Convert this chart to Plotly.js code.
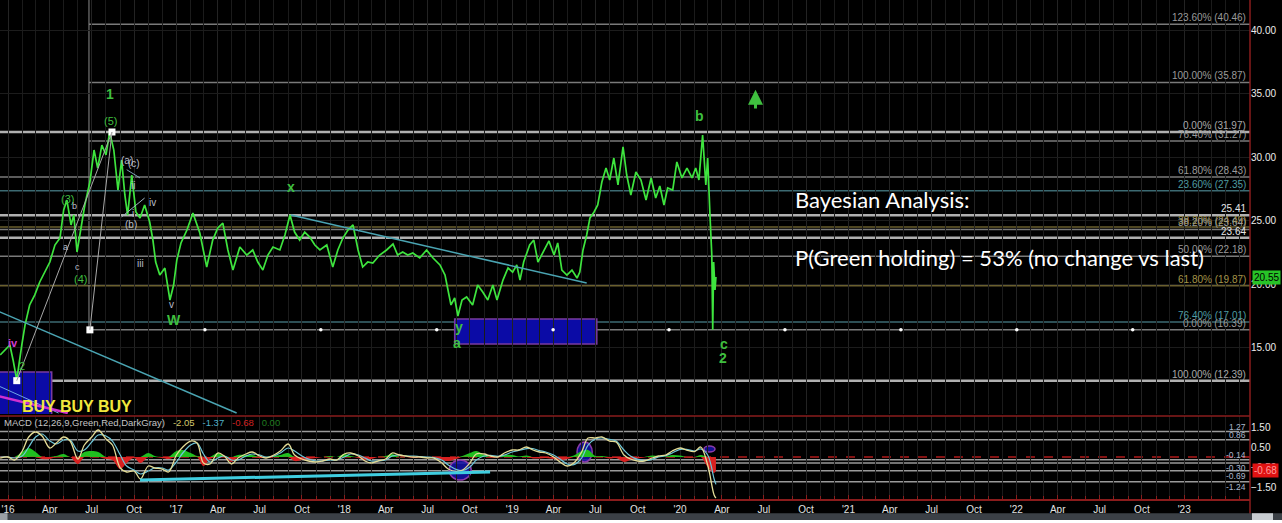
<!DOCTYPE html>
<html><head><meta charset="utf-8">
<script src="https://cdn.plot.ly/plotly-3.0.1.min.js"></script>
<style>html,body{margin:0;padding:0;background:#000;}#chart{width:1282px;height:523px;}</style>
</head><body><div id="chart"></div>
<script>
// ---------- DATA ----------
const priceDates = ['2015-12-15','2015-12-25','2016-01-05','2016-01-12','2016-01-20','2016-01-31','2016-02-07','2016-02-17','2016-02-28','2016-03-10','2016-03-21','2016-04-01','2016-04-12','2016-04-23','2016-05-01','2016-05-08','2016-05-17','2016-05-23','2016-05-30','2016-06-07','2016-06-16','2016-06-27','2016-07-06','2016-07-14','2016-07-23','2016-08-01','2016-08-09','2016-08-18','2016-08-27','2016-09-04','2016-09-11','2016-09-17','2016-09-26','2016-10-05','2016-10-14','2016-10-24','2016-11-04','2016-11-11','2016-11-17','2016-11-26','2016-12-07','2016-12-18','2016-12-26','2017-01-02','2017-01-11','2017-01-24','2017-02-06','2017-02-21','2017-03-08','2017-03-21','2017-04-01','2017-04-12','2017-04-23','2017-05-04','2017-05-19','2017-06-03','2017-06-16','2017-06-27','2017-07-08','2017-07-19','2017-07-30','2017-08-14','2017-08-25','2017-09-05','2017-09-15','2017-09-26','2017-10-07','2017-10-18','2017-10-29','2017-11-09','2017-11-24','2017-12-07','2017-12-18','2017-12-29','2018-01-09','2018-01-20','2018-01-31','2018-02-10','2018-02-21','2018-03-04','2018-03-19','2018-04-03','2018-04-17','2018-04-27','2018-05-08','2018-05-19','2018-05-30','2018-06-14','2018-06-29','2018-07-13','2018-07-28','2018-08-08','2018-08-14','2018-08-21','2018-08-29','2018-09-05','2018-09-14','2018-09-24','2018-10-07','2018-10-18','2018-10-29','2018-11-09','2018-11-20','2018-11-29','2018-12-12','2018-12-23','2019-01-02','2019-01-11','2019-01-18','2019-01-26','2019-02-08','2019-02-17','2019-02-26','2019-03-09','2019-03-22','2019-04-02','2019-04-10','2019-04-19','2019-04-30','2019-05-11','2019-05-22','2019-05-28','2019-06-04','2019-06-12','2019-06-19','2019-06-28','2019-07-06','2019-07-15','2019-07-24','2019-08-01','2019-08-10','2019-08-19','2019-08-30','2019-09-07','2019-09-16','2019-09-27','2019-10-08','2019-10-19','2019-10-30','2019-11-09','2019-11-18','2019-11-27','2019-12-05','2019-12-16','2019-12-25','2020-01-05','2020-01-16','2020-01-27','2020-02-04','2020-02-11','2020-02-19','2020-02-26','2020-03-01','2020-03-06','2020-03-10','2020-03-12','2020-03-14','2020-03-17','2020-03-19'];
const priceValues = [14.41,14.80,15.20,14.02,12.45,15.20,16.77,18.35,19.13,20.16,20.94,21.73,23.07,23.62,25.83,26.61,24.65,25.43,22.52,24.25,26.22,28.03,30.55,29.13,30.94,30.16,31.95,30.55,27.40,29.76,27.01,25.43,28.58,25.67,25.20,26.22,24.88,23.46,21.73,20.71,21.26,18.74,19.92,21.89,23.23,24.25,25.59,24.02,21.34,23.46,24.41,24.80,22.68,21.10,22.91,22.28,22.68,21.73,21.10,22.28,22.91,22.68,23.86,25.43,24.09,23.46,24.09,23.70,23.07,22.68,23.07,21.34,22.68,23.62,24.25,24.65,22.68,21.34,21.73,21.65,22.28,22.68,23.15,22.28,22.52,22.28,22.44,22.05,22.68,22.05,21.50,20.71,19.53,18.35,18.90,17.48,18.74,18.98,18.35,19.92,19.37,18.74,19.92,18.74,20.31,21.26,20.94,21.50,20.31,21.73,23.07,23.46,21.73,22.52,23.39,22.28,23.23,21.10,20.71,21.10,20.47,20.94,22.68,23.86,25.20,25.67,26.22,28.03,29.13,28.19,29.92,27.80,30.79,28.58,27.01,28.82,28.19,26.61,28.35,26.77,27.72,26.22,27.56,27.40,29.61,28.35,29.13,28.35,29.13,28.19,31.73,27.80,29.92,25.43,22.28,16.39,21.73,19.53,20.55];

const macdDates = ['2015-12-15','2016-01-01','2016-01-15','2016-02-01','2016-02-15','2016-03-01','2016-03-15','2016-04-01','2016-04-15','2016-05-01','2016-05-15','2016-06-01','2016-06-15','2016-07-01','2016-07-15','2016-08-01','2016-08-15','2016-09-01','2016-09-15','2016-10-01','2016-10-15','2016-11-01','2016-11-15','2016-12-01','2016-12-15','2017-01-01','2017-01-15','2017-02-01','2017-02-15','2017-03-01','2017-03-15','2017-04-01','2017-04-15','2017-05-01','2017-05-15','2017-06-01','2017-06-15','2017-07-01','2017-07-15','2017-08-01','2017-08-15','2017-09-01','2017-09-15','2017-10-01','2017-10-15','2017-11-01','2017-11-15','2017-12-01','2017-12-15','2018-01-01','2018-01-15','2018-02-01','2018-02-15','2018-03-01','2018-03-15','2018-04-01','2018-04-15','2018-05-01','2018-05-15','2018-06-01','2018-06-15','2018-07-01','2018-07-15','2018-08-01','2018-08-15','2018-09-01','2018-09-15','2018-10-01','2018-10-15','2018-11-01','2018-11-15','2018-12-01','2018-12-15','2019-01-01','2019-01-15','2019-02-01','2019-02-15','2019-03-01','2019-03-15','2019-04-01','2019-04-15','2019-05-01','2019-05-15','2019-06-01','2019-06-15','2019-07-01','2019-07-15','2019-08-01','2019-08-15','2019-09-01','2019-09-15','2019-10-01','2019-10-15','2019-11-01','2019-11-15','2019-12-01','2019-12-15','2020-01-01','2020-01-15','2020-02-01','2020-02-15','2020-03-01','2020-03-15','2020-03-19'];
const macdValue = [-0.05,0,-0.15,0.3,1.0,1.25,1.05,0.45,0.7,1.0,0.8,-0.1,0.6,1.0,1.35,0.9,0.6,-0.55,-0.75,-0.7,-1.1,-0.45,-0.55,-0.6,-0.75,0.1,0.5,0.8,0.7,-0.3,-0.35,0.2,0.05,-0.35,-0.05,0.15,0.25,0.05,-0.05,0.1,0.3,0.65,0.1,-0.1,-0.2,-0.25,-0.2,-0.1,-0.15,0.15,0.2,0.05,-0.2,-0.3,-0.2,-0.1,0.2,0.1,0.05,0,0,-0.05,-0.05,-0.3,-0.6,-0.72,-0.65,-0.3,0.15,0.15,0.05,0,0.2,0.35,0.35,0.5,0.35,0.25,0.2,0,-0.25,-0.45,-0.3,0.25,0.95,0.95,1.0,0.8,0.75,0.1,-0.1,-0.2,-0.2,-0.05,0.05,0.1,0.3,0.45,0.35,0.27,0.5,-0.4,-1.9,-2.05];
const macdAvg = [0,0,-0.05,0.05,0.5,1.0,1.15,0.8,0.65,0.85,0.85,0.3,0.35,0.75,1.1,1.05,0.8,0.1,-0.45,-0.65,-0.85,-0.7,-0.55,-0.55,-0.65,-0.25,0.2,0.6,0.7,0.15,-0.25,-0.05,0.05,-0.15,-0.15,0.05,0.15,0.1,0,0.05,0.2,0.45,0.3,0.05,-0.1,-0.2,-0.2,-0.15,-0.15,0,0.15,0.1,-0.05,-0.2,-0.2,-0.15,0.05,0.1,0.05,0.05,0.02,0,-0.03,-0.15,-0.4,-0.62,-0.68,-0.5,-0.15,0.05,0.08,0.03,0.1,0.25,0.33,0.42,0.42,0.32,0.25,0.1,-0.1,-0.35,-0.38,-0.05,0.6,0.9,0.95,0.88,0.8,0.35,0.05,-0.12,-0.18,-0.12,0,0.07,0.2,0.38,0.38,0.3,0.4,0.1,-1.1,-1.37];
const macdDiff = [0,0,-0.05,0.25,0.45,0.25,-0.1,-0.1,0.05,0.15,0,-0.35,0.25,0.3,0.25,-0.1,-0.15,-0.6,-0.3,-0.05,-0.3,0.2,0.05,-0.05,-0.1,0.3,0.35,0.2,0.05,-0.45,-0.1,0.2,0.05,-0.25,0.1,0.1,0.1,-0.05,-0.05,0.05,0.1,0.2,-0.2,-0.15,-0.1,-0.05,0,0.05,0,0.15,0.05,-0.05,-0.15,-0.1,0,0.05,0.15,0,0,-0.05,-0.02,-0.05,-0.03,-0.15,-0.2,-0.1,0.05,0.2,0.3,0.1,-0.03,-0.03,0.1,0.1,0.03,0.08,-0.07,-0.07,-0.05,-0.1,-0.15,-0.1,0.08,0.3,0.35,0.05,0.05,-0.08,-0.05,-0.25,-0.15,-0.08,-0.02,0.07,0.05,0.03,0.1,0.07,-0.03,-0.03,0.1,-0.5,-0.8,-0.68];

const xTickVals = ['2016-01-01','2016-04-01','2016-07-01','2016-10-01','2017-01-01','2017-04-01','2017-07-01','2017-10-01','2018-01-01','2018-04-01','2018-07-01','2018-10-01','2019-01-01','2019-04-01','2019-07-01','2019-10-01','2020-01-01','2020-04-01','2020-07-01','2020-10-01','2021-01-01','2021-04-01','2021-07-01','2021-10-01','2022-01-01','2022-04-01','2022-07-01','2022-10-01','2023-01-01'];
const xTickText = ["'16",'Apr','Jul','Oct',"'17",'Apr','Jul','Oct',"'18",'Apr','Jul','Oct',"'19",'Apr','Jul','Oct',"'20",'Apr','Jul','Oct',"'21",'Apr','Jul','Oct',"'22",'Apr','Jul','Oct',"'23"];
const priceTicks = [15,20,25,30,35,40];
const macdTicks = [-1.5,-0.5,0.5,1.5];

const fibLevels = [40.46,35.87,31.97,31.27,28.43,27.35,25.41,24.49,24.30,23.64,22.18,19.87,17.01,16.39,12.39];
const fibLabels = ['123.60% (40.46)','100.00% (35.87)','0.00% (31.97)','76.40% (31.27)','61.80% (28.43)','23.60% (27.35)','25.41','38.20% (24.49)','38.20% (23.64)','23.64','50.00% (22.18)','61.80% (19.87)','76.40% (17.01)','0.00% (16.39)','100.00% (12.39)'];
const fibStartDates = ['2016-06-25','2016-06-25','2015-12-01','2016-06-25','2015-12-01','2015-12-01','2015-12-01','2015-12-01','2015-12-01','2015-12-01','2015-12-01','2015-12-01','2015-12-01','2016-06-25','2015-12-01'];

const macdLevels = [1.27,0.86,-0.14,-0.30,-0.69,-1.24];
const macdLevelLabels = ['1.27','0.86','-0.14','-0.30','-0.69','-1.24'];

const waveText = ['1','(5)','(3)','b','a','c','(4)','(a)','(c)','ii','i','(b)','iv','iii','v','W','x','y','a','b','c','2','iv','2'];
const waveDates = ['2016-08-09','2016-08-11','2016-05-10','2016-05-24','2016-05-06','2016-05-30','2016-06-07','2016-09-15','2016-09-30','2016-09-28','2016-09-28','2016-09-24','2016-11-11','2016-10-14','2016-12-22','2016-12-26','2017-09-07','2018-09-07','2018-09-03','2020-02-13','2020-04-05','2020-04-03','2016-01-12','2016-01-31'];
const wavePrices = [34.96,32.83,26.69,26.14,22.91,21.34,20.39,29.76,29.45,27.72,25.59,24.72,26.38,21.65,18.35,17.15,27.64,16.61,15.35,33.23,15.28,14.17,15.35,13.54];

const trendStartDates = ['2015-12-10','2015-12-10','2015-12-10','2017-09-07','2016-09-15','2016-09-04','2016-01-20','2016-06-27'];
const trendStartPrices = [17.87,12.0,11.18,25.43,29.0,25.28,12.39,16.39];
const trendEndDates = ['2017-05-12','2016-04-20','2016-05-10','2019-06-12','2016-10-14','2016-10-24','2016-08-14','2016-08-14'];
const trendEndPrices = [9.84,9.84,9.84,20.08,28.35,26.77,31.97,31.97];

const boxStartDates = ['2018-08-29','2015-12-01'];
const boxEndDates = ['2019-07-04','2016-04-05'];
const boxLow = [15.28,9.5];
const boxHigh = [17.24,13.07];

const pivotDates = ['2016-08-14','2016-06-27','2016-01-20'];
const pivotPrices = [31.97,16.39,12.39];
const handleDates = ['2017-03-04','2017-11-11','2018-07-21','2019-03-31','2019-12-08','2020-08-16','2021-04-25','2022-01-02','2022-09-11'];

const macdTrendDates = ['2016-10-14','2018-11-14'];
const macdTrendValues = [-1.15,-0.75];
const ellStartDates = ['2018-08-17','2019-05-22','2020-02-22'];
const ellEndDates = ['2018-10-04','2019-06-24','2020-03-17'];
const ellLow = [-1.15,-0.25,0.25];
const ellHigh = [-0.15,0.75,0.55];

const lastPrice = 20.55, lastDiff = -0.68;

// ---------- STYLES ----------
const fibKinds = ['g','g','B','g','g','t','B','o','g','B','g','o','t','g','B'];
const fibStyle = {
  B:{line:'#b0b0b0',w:2.5,label:'#a8a8a8'},
  g:{line:'#7a7a7a',w:1.5,label:'#9a9a9a'},
  t:{line:'#3c6a72',w:1.5,label:'#4e9ca2'},
  o:{line:'#6a5f2e',w:1.5,label:'#a39448'}
};
const waveKinds = ['G','g','g','s','s','s','g','w','w','w','w','w','w','w','w','G','G','G','G','G','G','G','m','g'];
const waveStyle = {
  G:{c:'#3fbf3f',s:14,b:true},
  g:{c:'#3fbf3f',s:11,b:false},
  s:{c:'#b9bcc8',s:9,b:false},
  w:{c:'#b9bcc8',s:10,b:false},
  m:{c:'#d23cd2',s:11,b:true}
};
const trendStyle = [
  {c:'#4aa4b2',w:1.5},{c:'#6fa6e6',w:1},{c:'#d030d0',w:2.5},{c:'#4aa4b2',w:1.5},
  {c:'#7fa2b8',w:1},{c:'#9fb4c2',w:1},{c:'#a8a8a8',w:1},{c:'#a8a8a8',w:1}
];
// label placement for MACD level labels: above (b) or below (t) their lines
const macdLabelSide = ['b','b','b','t','t','t'];

const X_START = '2015-12-14 14:00', X_END = '2023-05-24';
const PRICE_RANGE = [9.764, 42.362];
const MACD_RANGE = [-2.1, 2.05];
const PRICE_DOMAIN = [0.1703, 1];
const MACD_DOMAIN = [0, 0.1663];
const RED = '#8a1c1c';

// ---------- TRACES ----------
const pos = macdDiff.map(v => Math.max(v, 0));
const neg = macdDiff.map(v => Math.min(v, 0));
const traces = [
  {x:macdDates, y:pos, yaxis:'y2', type:'scatter', mode:'lines', line:{width:0, color:'#1fbf1f', shape:'spline'}, fill:'tozeroy', fillcolor:'#1fbf1f', hoverinfo:'skip'},
  {x:macdDates, y:neg, yaxis:'y2', type:'scatter', mode:'lines', line:{width:0, color:'#d82020', shape:'spline'}, fill:'tozeroy', fillcolor:'#d82020', hoverinfo:'skip'},
  {x:macdDates, y:macdAvg, yaxis:'y2', type:'scatter', mode:'lines', line:{width:1.2, color:'#6ec6d8', shape:'spline'}},
  {x:macdDates, y:macdValue, yaxis:'y2', type:'scatter', mode:'lines', line:{width:1.3, color:'#e4dc96', shape:'spline'}},
  {x:priceDates, y:priceValues, yaxis:'y', type:'scatter', mode:'lines', line:{width:1.7, color:'#3ee43e'}},
  {x:pivotDates, y:pivotPrices, yaxis:'y', type:'scatter', mode:'markers', marker:{symbol:'square', size:7, color:'#ffffff'}},
  {x:handleDates, y:handleDates.map(() => fibLevels[13]), yaxis:'y', type:'scatter', mode:'markers', marker:{symbol:'circle', size:3.5, color:'#ffffff'}}
];

// ---------- SHAPES ----------
const shapes = [];
fibLevels.forEach((v, i) => {
  const st = fibStyle[fibKinds[i]];
  shapes.push({type:'line', xref:'x', yref:'y', x0:fibStartDates[i], x1:X_END, y0:v, y1:v, line:{color:st.line, width:st.w}, layer:'below'});
});
shapes.push({type:'line', xref:'x', yref:'y', x0:fibStartDates[0], x1:fibStartDates[0], y0:fibLevels[13], y1:PRICE_RANGE[1], line:{color:'#8a8a8a', width:1}, layer:'below'});
boxStartDates.forEach((d, i) => {
  shapes.push({type:'rect', xref:'x', yref:'y', x0:d, x1:boxEndDates[i], y0:boxLow[i], y1:boxHigh[i], fillcolor:'#0b0ba6', line:{color:'#7a3aa0', width:1.5}, layer:'below'});
});
trendStartDates.forEach((d, i) => {
  shapes.push({type:'line', xref:'x', yref:'y', x0:d, x1:trendEndDates[i], y0:trendStartPrices[i], y1:trendEndPrices[i], line:{color:trendStyle[i].c, width:trendStyle[i].w}});
});
macdLevels.forEach(v => {
  shapes.push({type:'line', xref:'paper', yref:'y2', x0:0, x1:1, y0:v, y1:v, line:{color:'#9a9a9a', width:1.5}, layer:'below'});
});
shapes.push({type:'line', xref:'paper', yref:'y2', x0:0, x1:1, y0:0, y1:0, line:{color:'#b01a1a', width:1.5, dash:'dash'}, layer:'below'});
ellStartDates.forEach((d, i) => {
  shapes.push({type:'circle', xref:'x', yref:'y2', x0:d, x1:ellEndDates[i], y0:ellLow[i], y1:ellHigh[i], fillcolor:'rgba(20,20,170,0.85)', line:{color:'#8a3aa8', width:1.5}, layer:'below'});
});
shapes.push({type:'line', xref:'x', yref:'y2', x0:macdTrendDates[0], x1:macdTrendDates[1], y0:macdTrendValues[0], y1:macdTrendValues[1], line:{color:'#3fcde0', width:3}});
shapes.push({type:'line', xref:'paper', yref:'paper', x0:0, x1:1, y0:MACD_DOMAIN[1], y1:MACD_DOMAIN[1], line:{color:RED, width:1.5}});
shapes.push({type:'line', xref:'paper', yref:'paper', x0:1, x1:1, y0:-0.03, y1:1, line:{color:RED, width:1.5}});
shapes.push({type:'rect', xref:'paper', yref:'paper', x0:0, x1:1.03, y0:-0.0285, y1:-0.0421, fillcolor:'#3b4046', line:{width:0}});
shapes.push({type:'rect', xref:'paper', yref:'paper', x0:0, x1:1.03, y0:-0.0421, y1:-0.05, fillcolor:'#ffffff', line:{width:0}});
shapes.push({type:'rect', xref:'paper', yref:'paper', x0:0, x1:0.006, y0:-0.0285, y1:-0.0421, fillcolor:'#9aa0a6', line:{width:0}});
shapes.push({type:'rect', xref:'paper', yref:'paper', x0:1.0016, x1:1.0184, y0:-0.0285, y1:-0.0421, fillcolor:'#c8ccd0', line:{width:0}});

// ---------- ANNOTATIONS ----------
const ann = [];
fibLevels.forEach((v, i) => {
  const plain = fibLabels[i].indexOf('%') < 0;
  ann.push({xref:'paper', yref:'y', x:0.998, y:v, xanchor:'right', yanchor:'bottom', yshift:-1, showarrow:false, text:fibLabels[i],
    font:{family:'Liberation Sans, Arial', size:10, color: plain ? '#e6e6e6' : fibStyle[fibKinds[i]].label}});
});
macdLevels.forEach((v, i) => {
  const below = macdLabelSide[i] === 't';
  ann.push({xref:'paper', yref:'y2', x:0.998, y:v, xanchor:'right', yanchor: below ? 'top' : 'bottom', yshift: below ? 2 : -2, showarrow:false, text:macdLevelLabels[i],
    font:{family:'Liberation Sans, Arial', size:8.5, color:'#a9b6cc'}});
});
waveText.forEach((t, i) => {
  const st = waveStyle[waveKinds[i]];
  ann.push({xref:'x', yref:'y', x:waveDates[i], y:wavePrices[i], showarrow:false, text: st.b ? '<b>'+t+'</b>' : t,
    font:{family:'Liberation Sans, Arial', size:st.s, color:st.c}});
});
ann.push({xref:'x', yref:'y', x:'2020-06-13', y:35.3, ax:'2020-06-13', ay:33.7, axref:'x', ayref:'y', showarrow:true, arrowhead:2, arrowsize:1, arrowwidth:3, arrowcolor:'#3fbf3f', text:''});
ann.push({xref:'paper', yref:'paper', x:0.016, y:0.1844, xanchor:'left', yanchor:'middle', showarrow:false, text:'<b>BUY BUY BUY</b>',
  font:{family:'Liberation Sans, Arial', size:16, color:'#f1e73c'}});
ann.push({xref:'paper', yref:'paper', x:0.6344, y:0.5992, xanchor:'left', yanchor:'middle', showarrow:false, text:'Bayesian Analysis:',
  font:{family:'Lato, Open Sans, sans-serif', size:22, color:'#ffffff'}});
ann.push({xref:'paper', yref:'paper', x:0.6344, y:0.483, xanchor:'left', yanchor:'middle', showarrow:false, text:'P(Green holding) = 53% (no change vs last)',
  font:{family:'Lato, Open Sans, sans-serif', size:22, color:'#ffffff'}});
ann.push({xref:'paper', yref:'paper', x:0.0016, y:0.1543, xanchor:'left', yanchor:'middle', showarrow:false,
  text:'MACD (12,26,9,Green,Red,DarkGray)   <span style="color:#d6c86a">'+macdValue[macdValue.length-1].toFixed(2)+'</span>   <span style="color:#4fb0c8">'+macdAvg[macdAvg.length-1].toFixed(2)+'</span>   <span style="color:#d02020">'+lastDiff.toFixed(2)+'</span>   <span style="color:#1f7a1f">0.00</span>',
  font:{family:'Liberation Sans, Arial', size:9.5, color:'#c4c4c4'}});
ann.push({xref:'paper', yref:'y', x:1.0016, y:lastPrice, xanchor:'left', yanchor:'middle', showarrow:false, text:lastPrice.toFixed(2),
  bgcolor:'#27c427', borderpad:1, font:{family:'Liberation Sans, Arial', size:10, color:'#000000'}});
ann.push({xref:'paper', yref:'y2', x:1.0016, y:lastDiff, xanchor:'left', yanchor:'middle', showarrow:false, text:lastDiff.toFixed(2),
  bgcolor:'#e01212', borderpad:1, font:{family:'Liberation Sans, Arial', size:10, color:'#ff9c9c'}});

// ---------- LAYOUT ----------
const layout = {
  width:1282, height:523,
  margin:{l:0, r:32, t:0, b:24, pad:0},
  paper_bgcolor:'#000000', plot_bgcolor:'#000000',
  showlegend:false,
  font:{family:'Liberation Sans, Arial, sans-serif', size:10, color:'#e0e0e0'},
  xaxis:{type:'date', range:[X_START, X_END], anchor:'y2', tickvals:xTickVals, ticktext:xTickText,
    tickfont:{size:10, color:'#e2e2e2'}, ticks:'inside', ticklen:4, tickcolor:RED,
    showgrid:true, gridcolor:'#232323', gridwidth:1,
    minor:{dtick:'M1', showgrid:true, gridcolor:'#1b1b1b', ticks:'inside', ticklen:3, tickcolor:RED},
    showline:true, linecolor:RED, linewidth:2, zeroline:false, fixedrange:true},
  yaxis:{domain:PRICE_DOMAIN, range:PRICE_RANGE, side:'right', tickvals:priceTicks, tickformat:'.2f',
    tickfont:{size:10, color:'#ececec'}, showgrid:true, gridcolor:'#1c1c1c', zeroline:false,
    showline:false, ticks:'', fixedrange:true},
  yaxis2:{domain:MACD_DOMAIN, range:MACD_RANGE, side:'right', tickvals:macdTicks, tickformat:'.2f',
    tickfont:{size:10, color:'#ececec'}, showgrid:false, zeroline:false, showline:false, ticks:'', fixedrange:true},
  shapes:shapes,
  annotations:ann
};

Plotly.newPlot('chart', traces, layout, {staticPlot:true, displayModeBar:false});
</script>
</body></html>
